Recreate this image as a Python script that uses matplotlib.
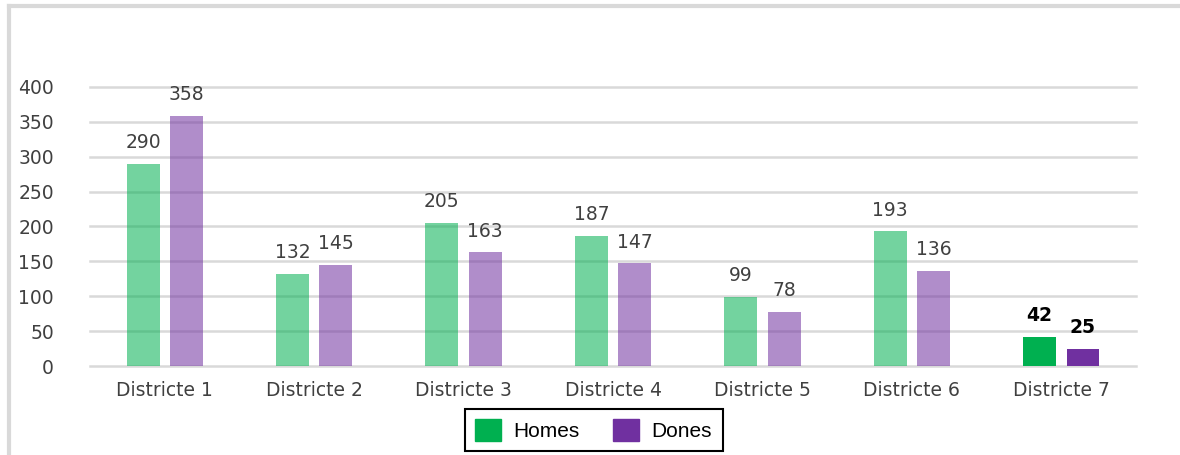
import matplotlib
matplotlib.use('Agg')
import matplotlib.pyplot as plt
from matplotlib.lines import Line2D
import numpy as np

districts = ['Districte 1', 'Districte 2', 'Districte 3', 'Districte 4',
             'Districte 5', 'Districte 6', 'Districte 7']
homes = [290, 132, 205, 187, 99, 193, 42]
dones = [358, 145, 163, 147, 78, 136, 25]

green = '#00B050'
purple = '#7030A0'
text_grey = '#404040'

fig = plt.figure(figsize=(11.8, 4.55), dpi=100)
ax = fig.add_axes([0.0763, 0.1956, 0.8864, 0.6132])

x = np.arange(len(districts))
w = 0.22
off = 0.145
# the last district is highlighted, the rest faded
alphas = [0.55] * (len(districts) - 1) + [1.0]
for i in x:
    ax.bar(i - off, homes[i], w, color=green, alpha=alphas[i], zorder=3)
    ax.bar(i + off, dones[i], w, color=purple, alpha=alphas[i], zorder=3)
    weight = 'bold' if alphas[i] == 1.0 else 'normal'
    color = 'black' if alphas[i] == 1.0 else text_grey
    ax.annotate(str(homes[i]), (i - off, homes[i]), xytext=(0, 8.5),
                textcoords='offset points', ha='center', va='bottom',
                fontsize=13.5, color=color, fontweight=weight)
    ax.annotate(str(dones[i]), (i + off, dones[i]), xytext=(0, 8.5),
                textcoords='offset points', ha='center', va='bottom',
                fontsize=13.5, color=color, fontweight=weight)

ax.set_xlim(-0.5, len(districts) - 0.5)
ax.set_ylim(0, 400)
ax.set_yticks(range(0, 401, 50))
ax.set_xticks(x)
ax.set_xticklabels(districts)
ax.tick_params(axis='both', length=0, labelsize=13.5, colors=text_grey)
ax.tick_params(axis='y', pad=26)
ax.tick_params(axis='x', pad=11)
ax.grid(axis='y', color='#D9D9D9', linewidth=1.8, zorder=0)
for gl in ax.get_ygridlines():
    gl.set_clip_on(False)
for s in ax.spines.values():
    s.set_visible(False)

# legend
handles = [plt.Rectangle((0, 0), 1, 1, color=green),
           plt.Rectangle((0, 0), 1, 1, color=purple)]
leg = fig.legend(handles, ['Homes', 'Dones'], loc='center',
                 bbox_to_anchor=(0.503, 0.055), ncol=2, fancybox=False,
                 edgecolor='black', framealpha=1,
                 prop={'family': 'Liberation Sans', 'size': 15},
                 handlelength=1.25, handleheight=1.25, columnspacing=1.6,
                 handletextpad=0.6, borderpad=0.5)
leg.get_frame().set_linewidth(1.5)

# outer frame (left and top edges only)
fig.add_artist(Line2D([0.0075, 0.0075], [0, 0.987], color='#D9D9D9',
                      linewidth=3, transform=fig.transFigure))
fig.add_artist(Line2D([0.0075, 1.0], [0.987, 0.987], color='#D9D9D9',
                      linewidth=3, transform=fig.transFigure))

fig.savefig('out.png', dpi=100)
